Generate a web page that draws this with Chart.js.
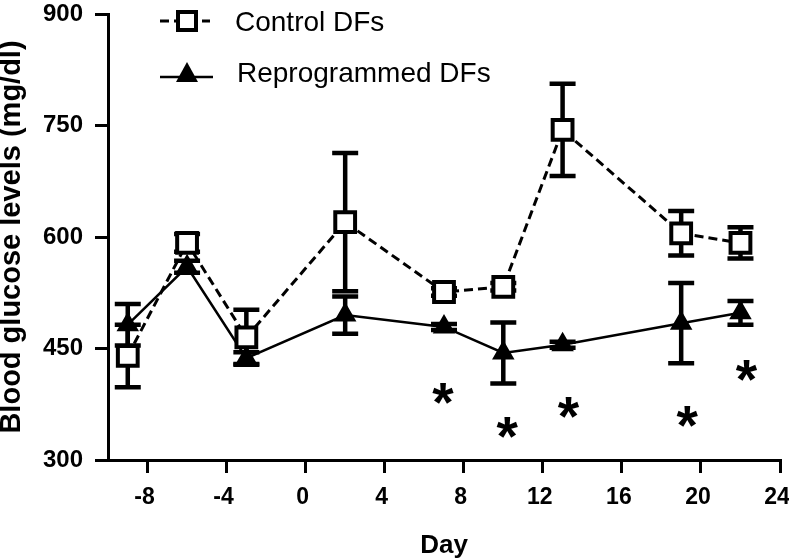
<!DOCTYPE html>
<html>
<head>
<meta charset="utf-8">
<script src="https://cdn.jsdelivr.net/npm/chart.js@4.4.0/dist/chart.umd.min.js"></script>
<style>
  html, body { margin: 0; padding: 0; background: #fff; }
</style>
</head>
<body>
<canvas id="glucoseChart" width="789" height="559"></canvas>
<script>
// values (mean and error per day)
const days = [-9, -6, -3, 2, 7, 10, 13, 19, 22];
const controlMean = [440, 592, 465, 620, 526, 533, 744, 605, 592];
const controlErr = [42, 12, 37, 93, 5, 5, 62, 30, 21];
const reprogMean = [482, 560, 437, 495, 479, 444, 455, 484, 498];
const reprogErr = [28, 8, 8, 25, 4, 41, 4, 54, 16];

// significance marks
const starDays = [6.95, 10.2, 13.3, 19.3, 22.3];
const starValues = [390, 344, 371, 358, 421];

const dayTicks = [-8, -4, 0, 4, 8, 12, 16, 20, 24];
const glucoseTicks = [300, 450, 600, 750, 900];

const FONT = '"Liberation Sans", Arial, Helvetica, sans-serif';

const toPoints = (xs, ys) => xs.map((x, i) => ({ x: x, y: ys[i] }));

// draws the vertical error bars with caps under the markers
const errorBars = {
  id: 'errorBars',
  beforeDatasetsDraw(chart) {
    const ctx = chart.ctx;
    const yScale = chart.scales.y;
    ctx.save();
    ctx.strokeStyle = '#000';
    ctx.lineWidth = 4.5;
    chart.data.datasets.forEach((ds, i) => {
      const meta = chart.getDatasetMeta(i);
      meta.data.forEach((pt, j) => {
        const mean = ds.data[j].y;
        const err = ds.errors[j];
        const top = yScale.getPixelForValue(mean + err);
        const bot = yScale.getPixelForValue(mean - err);
        ctx.beginPath();
        ctx.moveTo(pt.x, top);
        ctx.lineTo(pt.x, bot);
        ctx.moveTo(pt.x - 13, top);
        ctx.lineTo(pt.x + 13, top);
        ctx.moveTo(pt.x - 13, bot);
        ctx.lineTo(pt.x + 13, bot);
        ctx.stroke();
      });
    });
    ctx.restore();
  }
};

// asterisks for significant differences
const stars = {
  id: 'stars',
  afterDatasetsDraw(chart) {
    const ctx = chart.ctx;
    const xs = chart.scales.x, ys = chart.scales.y;
    ctx.save();
    ctx.fillStyle = '#000';
    ctx.font = 'bold 60px ' + FONT;
    let m = ctx.measureText('*');
    const w = m.actualBoundingBoxLeft + m.actualBoundingBoxRight;
    const size = Math.round(60 * 22 / w);
    ctx.font = 'bold ' + size + 'px ' + FONT;
    m = ctx.measureText('*');
    ctx.textAlign = 'center';
    ctx.textBaseline = 'alphabetic';
    const shift = (m.actualBoundingBoxAscent - m.actualBoundingBoxDescent) / 2;
    starDays.forEach((d, i) => {
      ctx.fillText('*', xs.getPixelForValue(d), ys.getPixelForValue(starValues[i]) + shift);
    });
    ctx.restore();
  }
};

// legend in the top left corner, line + marker like the original
const cornerLegend = {
  id: 'cornerLegend',
  afterDraw(chart) {
    const ctx = chart.ctx;
    ctx.save();
    ctx.strokeStyle = '#000';
    ctx.fillStyle = '#000';

    // Control DFs
    ctx.lineWidth = 3;
    ctx.setLineDash([9, 5]);
    ctx.beginPath();
    ctx.moveTo(160, 21);
    ctx.lineTo(210, 21);
    ctx.stroke();
    ctx.setLineDash([]);
    ctx.fillStyle = '#fff';
    ctx.fillRect(178, 12, 18, 18);
    ctx.lineWidth = 4;
    ctx.strokeRect(178, 12, 18, 18);

    // Reprogrammed DFs
    ctx.fillStyle = '#000';
    ctx.lineWidth = 2.5;
    ctx.beginPath();
    ctx.moveTo(160, 77);
    ctx.lineTo(213, 77);
    ctx.stroke();
    ctx.beginPath();
    ctx.moveTo(187, 62);
    ctx.lineTo(198, 82);
    ctx.lineTo(176, 82);
    ctx.closePath();
    ctx.fill();

    ctx.font = '28px ' + FONT;
    ctx.textAlign = 'left';
    ctx.textBaseline = 'alphabetic';
    ctx.fillText(chart.data.datasets[0].label, 235, 31);
    ctx.fillText(chart.data.datasets[1].label, 237, 82);
    ctx.restore();
  }
};

const axisGrid = { drawOnChartArea: false, drawTicks: true, tickLength: 13, lineWidth: 3, color: '#000' };

new Chart(document.getElementById('glucoseChart'), {
  type: 'line',
  data: {
    datasets: [
      {
        label: 'Control DFs',
        data: toPoints(days, controlMean),
        errors: controlErr,
        borderColor: '#000',
        borderWidth: 3,
        borderDash: [9, 5],
        pointStyle: 'rect',
        pointRadius: 14,
        pointBorderWidth: 4,
        pointBackgroundColor: '#fff',
        pointBorderColor: '#000',
        fill: false,
        tension: 0
      },
      {
        label: 'Reprogrammed DFs',
        data: toPoints(days, reprogMean),
        errors: reprogErr,
        borderColor: '#000',
        borderWidth: 2.5,
        pointStyle: 'triangle',
        pointRadius: 11,
        pointBorderWidth: 2,
        pointBackgroundColor: '#000',
        pointBorderColor: '#000',
        fill: false,
        tension: 0
      }
    ]
  },
  options: {
    responsive: false,
    animation: false,
    devicePixelRatio: 1,
    layout: { autoPadding: false, padding: { top: 14, right: 9, left: 0, bottom: 0 } },
    plugins: {
      legend: { display: false },
      tooltip: { enabled: false }
    },
    scales: {
      x: {
        type: 'linear',
        min: -10,
        max: 24,
        afterBuildTicks: s => { s.ticks = dayTicks.map(v => ({ value: v })); },
        afterFit: s => { s.height = 99; s.paddingLeft = 0; s.paddingRight = 0; },
        ticks: { color: '#000', padding: 11, labelOffset: -3, font: { family: FONT, size: 23, weight: 'bold' } },
        grid: axisGrid,
        border: { color: '#000', width: 3 },
        title: {
          display: true,
          text: 'Day',
          color: '#000',
          padding: 0,
          font: { family: FONT, size: 26, weight: 'bold', lineHeight: 1 }
        }
      },
      y: {
        min: 300,
        max: 900,
        afterBuildTicks: s => { s.ticks = glucoseTicks.map(v => ({ value: v })); },
        afterFit: s => { s.width = 108; s.paddingTop = 0; s.paddingBottom = 0; },
        ticks: { color: '#000', padding: 12, font: { family: FONT, size: 24, weight: 'bold' } },
        grid: axisGrid,
        border: { color: '#000', width: 3 },
        title: {
          display: true,
          text: 'Blood glucose levels (mg/dl)',
          color: '#000',
          padding: 0,
          font: { family: FONT, size: 29, weight: 'bold', lineHeight: 0.85 }
        }
      }
    }
  },
  plugins: [errorBars, stars, cornerLegend]
});
</script>
</body>
</html>
